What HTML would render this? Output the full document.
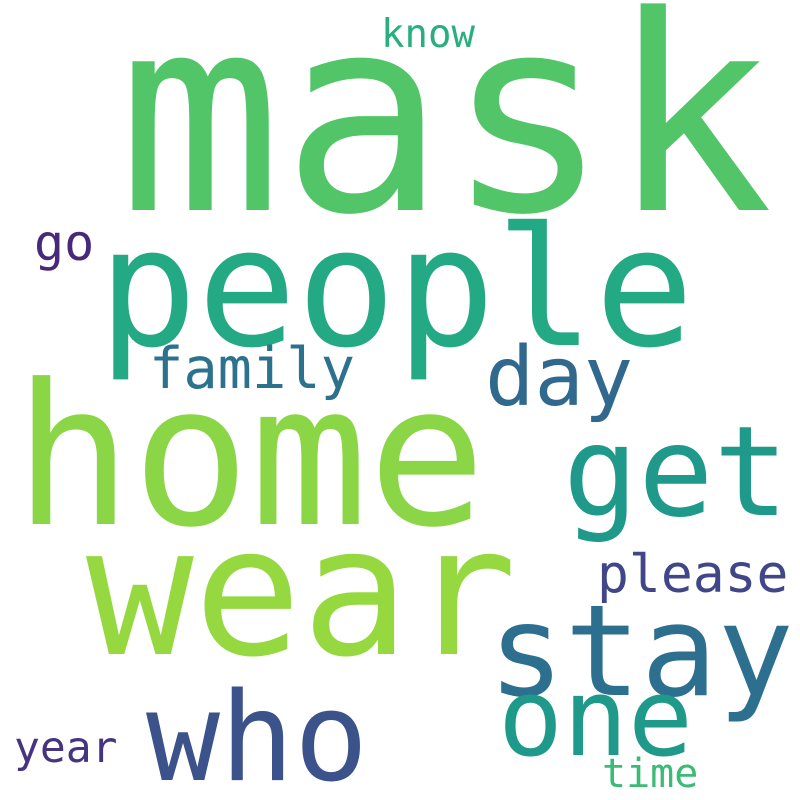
<!DOCTYPE html>
<html><head><meta charset="utf-8"><style>
html,body{margin:0;padding:0;background:#fff;}
svg{display:block;}
text{font-family:"DejaVu Sans Mono","Liberation Mono",monospace;}
</style></head><body>
<svg width="800" height="800" viewBox="0 0 800 800">
<rect width="800" height="800" fill="#ffffff"/>
<text x="118" y="210" font-size="272" fill="#52c569">mask</text>
<text x="98" y="345" font-size="165" fill="#23a983">people</text>
<text x="14" y="524" font-size="196" fill="#8bd646">home</text>
<text x="86" y="654" font-size="179" fill="#95d840">wear</text>
<text x="488" y="695" font-size="127" fill="#2d6f8e">stay</text>
<text x="146" y="780" font-size="123" fill="#3b528b">who</text>
<text x="498" y="755" font-size="108" fill="#1f9a8a">one</text>
<text x="563" y="515" font-size="125" fill="#1f998a">get</text>
<text x="485" y="405" font-size="82" fill="#31688e">day</text>
<text x="149" y="388" font-size="57" fill="#2c718e">family</text>
<text x="597" y="592" font-size="53" fill="#404688">please</text>
<text x="34" y="260" font-size="50" fill="#482878">go</text>
<text x="381" y="47" font-size="39" fill="#29af7f">know</text>
<text x="14" y="762" font-size="43" fill="#463480">year</text>
<text x="602" y="787" font-size="40" fill="#3bbb75">time</text>
</svg>
</body></html>
